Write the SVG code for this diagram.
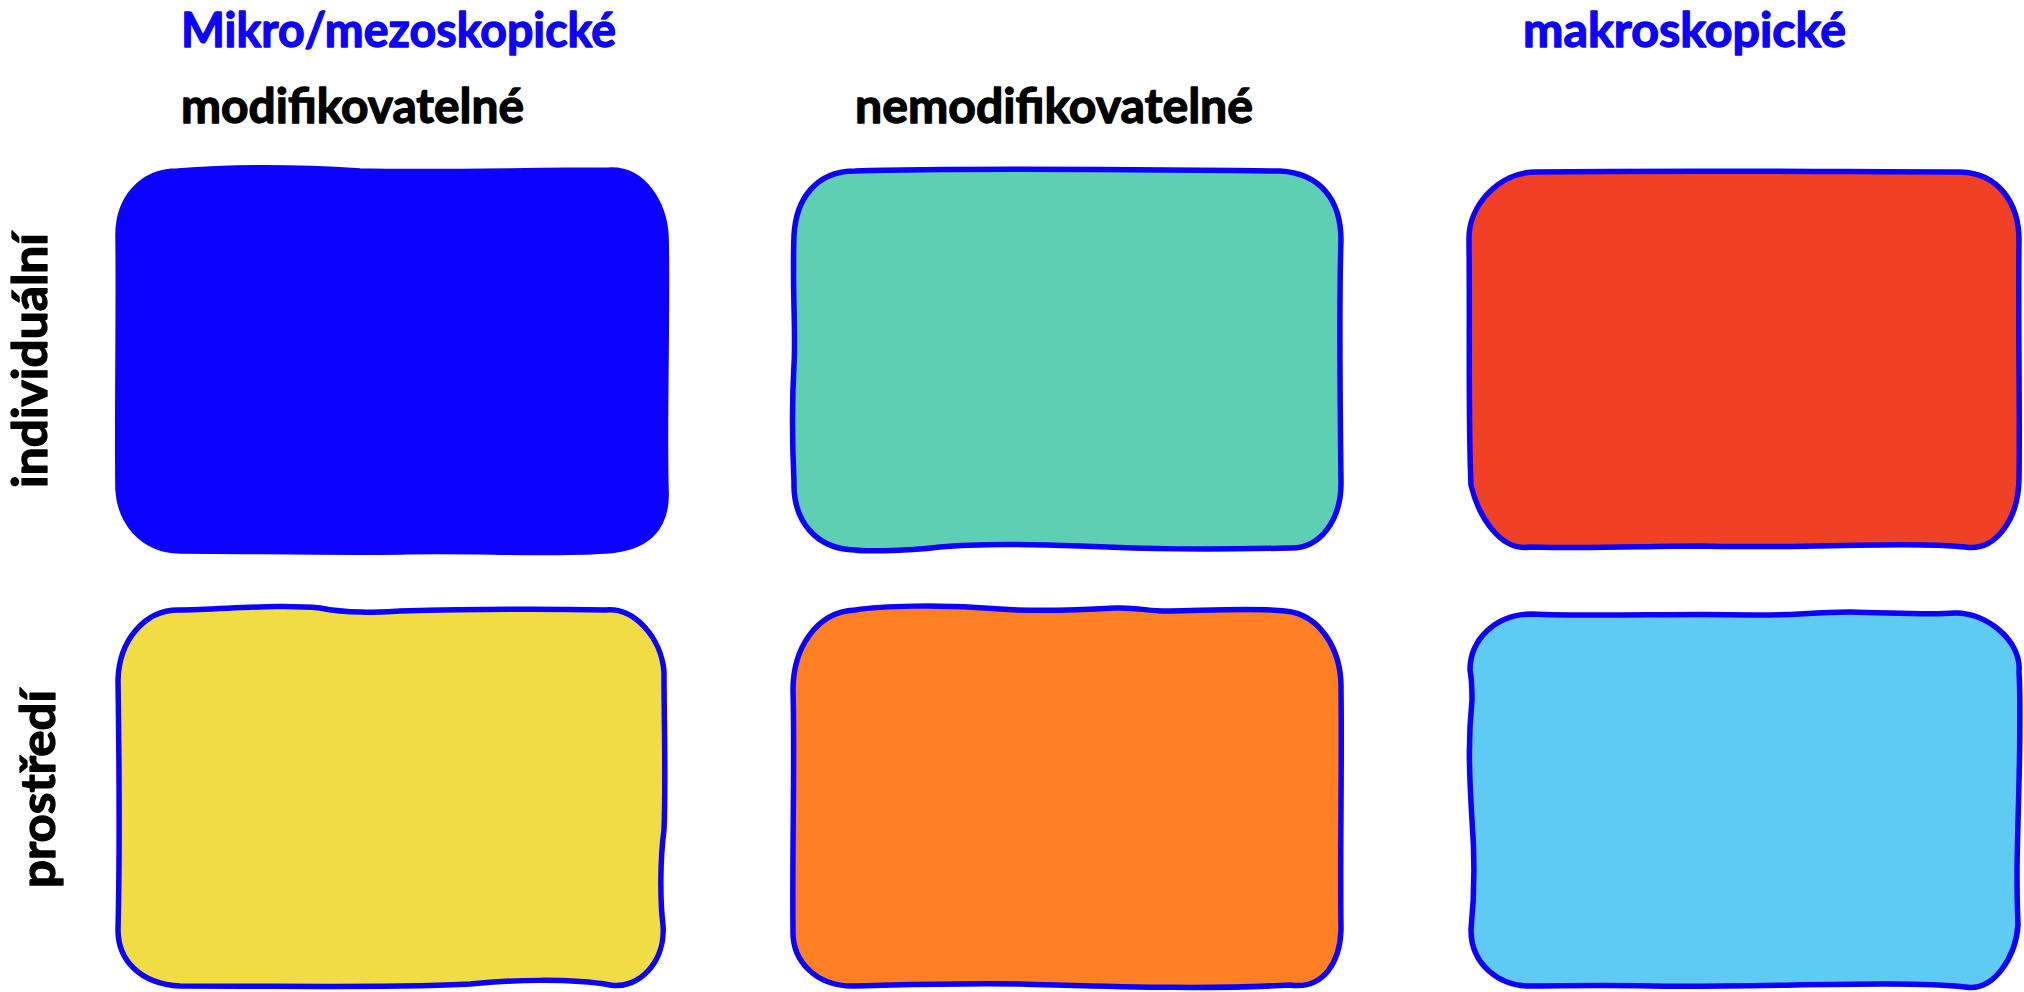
<svg xmlns="http://www.w3.org/2000/svg" width="2024" height="992" viewBox="0 0 2024 992">
<style>
.box{stroke:#0c00ff;stroke-width:5.5;stroke-linejoin:round;stroke-linecap:round}
.lbl{font-family:Lato,"Liberation Sans",sans-serif;font-weight:700;font-size:47px;stroke-width:1.3;stroke-linejoin:round}
.blue{fill:#0c00ff;stroke:#0c00ff}
.black{fill:#000;stroke:#000}
</style>
<rect width="2024" height="992" fill="#ffffff"/>
<g id="headers">
<text class="lbl blue" x="181" y="47" textLength="435" lengthAdjust="spacingAndGlyphs">Mikro/mezoskopické</text>
<text class="lbl blue" x="1523" y="47" textLength="323" lengthAdjust="spacingAndGlyphs">makroskopické</text>
<text class="lbl black" x="181" y="123" textLength="343" lengthAdjust="spacingAndGlyphs">modifikovatelné</text>
<text class="lbl black" x="855" y="123" textLength="398" lengthAdjust="spacingAndGlyphs">nemodifikovatelné</text>
<text class="lbl black" transform="translate(47,488) rotate(-90)" x="0" y="0" textLength="255" lengthAdjust="spacingAndGlyphs">individuální</text>
<text class="lbl black" transform="translate(55,888) rotate(-90)" x="0" y="0" textLength="198" lengthAdjust="spacingAndGlyphs">prostředí</text>
</g>
<g id="node-1">
<path class="box" fill="#0c00ff" d="M 178 171 C 240 166, 300 167, 360 171 C 440 173, 520 170, 610 170 C 645 169, 664 205, 666 235 C 668 300, 664 420, 666 490 C 668 530, 645 549, 605 551 C 540 555, 470 550, 400 552 C 320 553, 250 551, 180 551 C 140 550, 120 520, 118 490 C 117 420, 119 300, 118 235 C 118 200, 140 171, 178 171 Z"/>
</g>
<g id="node-2">
<path class="box" fill="#5ecfb2" d="M 855 171 C 950 168, 1100 169, 1280 171 C 1320 173, 1341 200, 1341 240 C 1339 300, 1340 400, 1341 480 C 1342 520, 1320 549, 1290 548 C 1200 550, 1150 549, 1080 546 C 1000 543, 960 545, 940 547 C 900 552, 860 551, 855 550 C 815 549, 793 520, 794 482 C 792 440, 792 400, 794 365 C 796 330, 792 290, 794 235 C 796 200, 815 171, 855 171 Z"/>
</g>
<g id="node-3">
<path class="box" fill="#f04026" d="M 1535 172 C 1700 170, 1850 172, 1960 172 C 2000 173, 2019 205, 2019 240 C 2018 320, 2020 420, 2019 480 C 2018 520, 1995 552, 1965 547 C 1900 541, 1800 549, 1700 546 C 1640 546, 1600 549, 1530 547 C 1500 552, 1478 515, 1471 485 C 1468 420, 1470 330, 1469 240 C 1468 205, 1500 172, 1535 172 Z"/>
</g>
<g id="node-4">
<path class="box" fill="#f0dc45" d="M 178 610 C 230 609, 280 604, 320 608 C 350 614, 380 612, 400 611 C 480 609, 560 609, 605 610 C 635 606, 662 640, 664 672 C 664 720, 666 780, 664 830 C 660 860, 660 900, 663 925 C 666 960, 640 990, 610 985 C 570 978, 510 980, 470 984 C 400 988, 300 986, 180 986 C 140 984, 118 960, 118 930 C 120 850, 119 750, 118 680 C 119 640, 145 610, 178 610 Z"/>
</g>
<g id="node-5">
<path class="box" fill="#fe8022" d="M 855 610 C 880 606, 940 604, 1000 609 C 1040 612, 1080 610, 1115 608 C 1140 607, 1150 612, 1170 611 C 1220 610, 1260 608, 1285 611 C 1320 614, 1342 650, 1341 690 C 1342 760, 1340 850, 1341 930 C 1340 960, 1325 990, 1290 985 C 1200 990, 1100 986, 1020 984 C 950 983, 900 985, 855 986 C 815 987, 792 960, 793 930 C 792 850, 795 760, 793 690 C 793 650, 815 612, 855 610 Z"/>
</g>
<g id="node-6">
<path class="box" fill="#5fcaf2" d="M 1532 614 C 1600 617, 1680 613, 1750 615 C 1790 616, 1810 612, 1850 612 C 1900 613, 1930 615, 1955 613 C 1985 612, 2022 640, 2019 672 C 2022 720, 2018 800, 2017 870 C 2017 910, 2018 920, 2018 925 C 2016 955, 1995 992, 1965 987 C 1900 980, 1750 988, 1650 986 C 1600 985, 1560 986, 1532 986 C 1500 987, 1471 965, 1471 930 C 1474 900, 1475 860, 1472 820 C 1469 770, 1468 740, 1472 700 C 1472 680, 1470 670, 1470 670 C 1470 640, 1495 614, 1532 614 Z"/>
</g>
<g id="connectors"></g>
</svg>
